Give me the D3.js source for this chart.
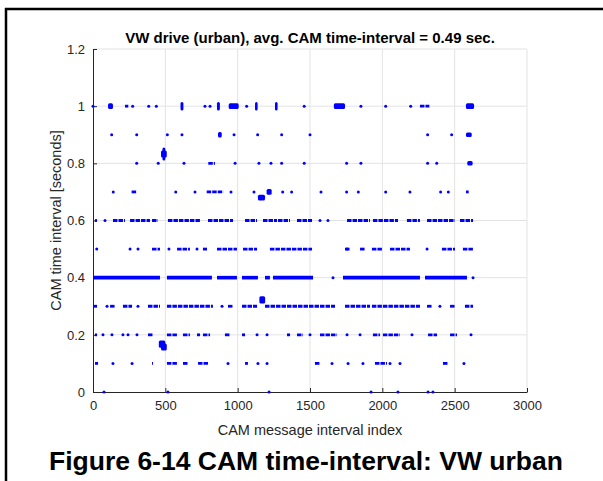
<!DOCTYPE html>
<html>
<head>
<meta charset="utf-8">
<script src="https://cdn.jsdelivr.net/npm/d3@7"></script>
<style>
body { margin: 0; background: #fff; }
text { font-family: "Liberation Sans", Arial, sans-serif; }
</style>
</head>
<body>
<div id="chart"></div>
<script>
// tick labels
var xTicks = [0, 500, 1000, 1500, 2000, 2500, 3000];
var yTicks = [0, 0.2, 0.4, 0.6, 0.8, 1, 1.2];

// single messages, by level (x = message index)
var dots = {
  "1.0": [0, 274, 385, 438, 774, 809, 1062, 1460, 1852, 2023, 2196],
  "0.9": [129, 302, 514, 615, 975, 1138, 1304, 1500, 2313, 2479],
  "0.8": [302, 451, 629, 982, 1147, 1230, 1304, 1460, 1753, 1852, 2313, 2376],
  "0.7": [140, 572, 705, 954, 1113, 1311, 1373, 1576, 1753, 1834, 2023, 2191, 2403, 2456],
  "0.6": [83, 1569, 1624],
  "0.5": [26, 256, 311, 525, 719, 1756, 2309],
  "0.4": [1659, 2627],
  "0.3": [97, 311, 892, 2398],
  "0.2": [69, 131, 207, 242, 304, 1134, 1203, 1500, 1756, 1846, 2205, 2613],
  "0.1": [138, 270, 933, 1140, 1203, 1652, 1763, 1866, 2053, 2122, 2564],
  "0.0": [76, 518, 1217, 1922, 2108, 2316, 2350]
};

// stretches of back-to-back messages on one level [from, to]
var runs = {
  "1.0": [[221, 244], [2260, 2325]],
  "0.8": [[797, 843]],
  "0.7": [[267, 302], [786, 901], [2578, 2597]],
  "0.6": [[14, 28], [138, 221], [256, 394], [408, 449], [518, 740], [795, 968], [1051, 1134],
          [1175, 1272], [1279, 1362], [1410, 1514], [1756, 1915], [1935, 2108], [2170, 2260],
          [2309, 2502], [2537, 2627]],
  "0.5": [[408, 463], [581, 670], [760, 788], [857, 995], [1037, 1134], [1223, 1514], [1742, 1776],
          [1846, 1880], [1928, 2004], [2053, 2191], [2412, 2502], [2557, 2627]],
  "0.4": [[0, 463], [511, 822], [857, 995], [1030, 1140], [1189, 1223], [1244, 1521], [1728, 2260],
          [2295, 2585]],
  "0.3": [[0, 28], [118, 152], [207, 270], [380, 463], [511, 829], [933, 968], [1030, 1134],
          [1189, 1673], [1742, 1915], [1928, 2260], [2309, 2343], [2468, 2502], [2571, 2627]],
  "0.2": [[14, 28], [380, 415], [511, 581], [622, 670], [719, 740], [760, 809], [912, 947],
          [1030, 1051], [1341, 1362], [1410, 1452], [1569, 1687], [1935, 1984], [2004, 2122],
          [2316, 2378], [2468, 2516]],
  "0.1": [[14, 35], [408, 415], [511, 581], [622, 657], [726, 795], [1051, 1071], [1534, 1569],
          [1949, 2032], [2419, 2454]]
};

// blobs of many messages with slightly varying interval [x0, x1, v0, v1]
var blobs = [
  [104, 138, 0.99, 1.01], [605, 625, 0.985, 1.015], [857, 877, 0.985, 1.015],
  [938, 1007, 0.99, 1.01], [1120, 1138, 0.985, 1.015], [1258, 1276, 0.985, 1.015],
  [1665, 1742, 0.99, 1.01], [2578, 2634, 0.99, 1.01],
  [864, 890, 0.89, 0.91], [2578, 2618, 0.892, 0.908], [2587, 2624, 0.792, 0.808],
  [470, 510, 0.82, 0.845], [480, 500, 0.81, 0.855],
  [1200, 1235, 0.69, 0.71], [1140, 1189, 0.67, 0.69],
  [1150, 1190, 0.31, 0.335],
  [455, 500, 0.155, 0.18], [470, 510, 0.145, 0.17]
];

var W = 603, H = 481;
var pLeft = 93, pRight = 527, pTop = 49, pBottom = 392;

var svg = d3.select("#chart").append("svg")
    .attr("width", W)
    .attr("height", H);

var x = d3.scaleLinear().domain([0, 3000]).range([pLeft, pRight]);
var y = d3.scaleLinear().domain([0, 1.2]).range([pBottom, pTop]);

// grid
svg.append("g")
  .selectAll("line")
  .data(xTicks.slice(1))
  .enter().append("line")
    .attr("x1", function(d) { return x(d); })
    .attr("x2", function(d) { return x(d); })
    .attr("y1", pTop).attr("y2", pBottom)
    .style("stroke", "#e3e3e3").style("stroke-width", 1);
svg.append("g")
  .selectAll("line")
  .data(yTicks.slice(1))
  .enter().append("line")
    .attr("y1", function(d) { return y(d); })
    .attr("y2", function(d) { return y(d); })
    .attr("x1", pLeft).attr("x2", pRight)
    .style("stroke", "#e3e3e3").style("stroke-width", 1);

// axes (matlab style, ticks inside)
var xAxis = svg.append("g")
    .attr("transform", "translate(0," + pBottom + ")")
    .call(d3.axisBottom(x).tickValues(xTicks).tickSizeInner(-4).tickSizeOuter(0).tickPadding(9)
      .tickFormat(d3.format("d")));
var yAxis = svg.append("g")
    .attr("transform", "translate(" + pLeft + ",0)")
    .call(d3.axisLeft(y).tickValues(yTicks).tickSizeInner(-4).tickSizeOuter(0).tickPadding(8)
      .tickFormat(function(d) { return String(+d.toFixed(1)); }));

[xAxis, yAxis].forEach(function(a) {
  a.select(".domain").style("stroke", "#262626");
  a.selectAll(".tick line").style("stroke", "#262626");
  a.selectAll(".tick text").style("fill", "#262626").style("font-size", "13px")
    .style("font-family", "'Liberation Sans', Arial, sans-serif");
});

var marks = svg.append("g").style("fill", "#0000ff").style("stroke", "#0000ff");

// dense 0.4 row is solid, the others have small gaps between messages
Object.keys(runs).forEach(function(k) {
  var v = +k;
  var dense = (k == "0.4");
  marks.selectAll(null)
    .data(runs[k])
    .enter().append("line")
      .attr("x1", function(d) { return x(d[0]); })
      .attr("x2", function(d) { return x(d[1]); })
      .attr("y1", y(v)).attr("y2", y(v))
      .style("stroke-width", dense ? 3.6 : 2.8)
      .style("stroke-dasharray", dense ? null : "4.5,1");
});

blobs.forEach(function(b) {
  marks.append("rect")
    .attr("x", x(b[0]))
    .attr("width", x(b[1]) - x(b[0]))
    .attr("y", y(b[3]))
    .attr("height", y(b[2]) - y(b[3]))
    .attr("rx", 1.5)
    .style("stroke", "none");
});

Object.keys(dots).forEach(function(k) {
  var v = +k;
  marks.selectAll(null)
    .data(dots[k])
    .enter().append("circle")
      .attr("cx", function(d) { return x(d); })
      .attr("cy", y(v))
      .attr("r", 1.5)
      .style("stroke", "none");
});

// titles
svg.append("text")
    .attr("x", (pLeft + pRight) / 2)
    .attr("y", 43)
    .attr("text-anchor", "middle")
    .style("font-size", "15px")
    .style("font-weight", "bold")
    .style("fill", "#000")
    .text("VW drive (urban), avg. CAM time-interval = 0.49 sec.");

svg.append("text")
    .attr("x", (pLeft + pRight) / 2)
    .attr("y", 435)
    .attr("text-anchor", "middle")
    .style("font-size", "14.5px")
    .style("fill", "#262626")
    .text("CAM message interval index");

svg.append("text")
    .attr("transform", "translate(61," + ((pTop + pBottom) / 2) + ") rotate(-90)")
    .attr("text-anchor", "middle")
    .style("font-size", "14.5px")
    .style("fill", "#262626")
    .text("CAM time interval [seconds]");

// figure frame + caption
svg.append("line").attr("x1", 5).attr("x2", W).attr("y1", 9).attr("y2", 9)
    .style("stroke", "#000").style("stroke-width", 2.5);
svg.append("line").attr("x1", 6).attr("x2", 6).attr("y1", 8).attr("y2", H)
    .style("stroke", "#000").style("stroke-width", 2.5);

svg.append("text")
    .attr("x", 306)
    .attr("y", 470)
    .attr("text-anchor", "middle")
    .style("font-size", "26.5px")
    .style("font-weight", "bold")
    .style("fill", "#000")
    .text("Figure 6-14 CAM time-interval: VW urban");
</script>
</body>
</html>
